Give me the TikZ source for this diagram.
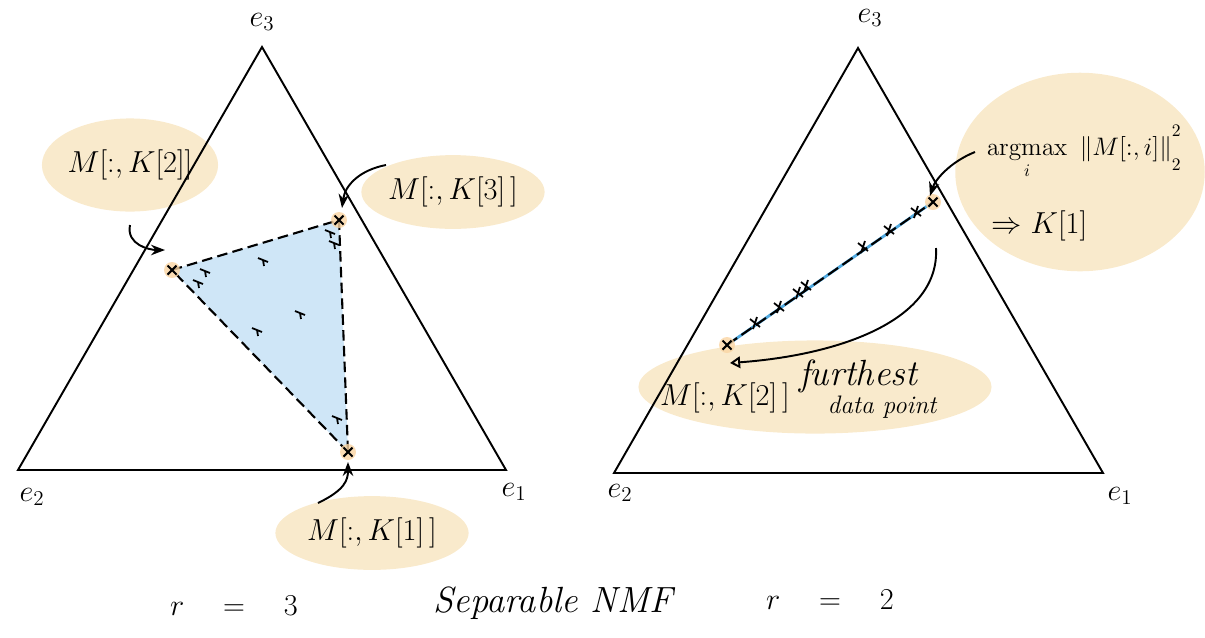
\documentclass[tikz,border=0pt]{standalone}
\usepackage{amsmath,amssymb}
\usetikzlibrary{shapes.geometric,arrows.meta,calc}
\definecolor{hlfill}{RGB}{249,234,204}
\definecolor{hullfill}{RGB}{207,230,247}
\definecolor{segblue}{RGB}{80,170,225}
\tikzset{
  hl/.style={ellipse,fill=hlfill,inner sep=0pt,font=\LARGE},
  vx/.style={fill=hlfill!80!orange,opacity=0.8},
  lab/.style={font=\LARGE},
}
\newcommand{\dpt}[1]{\draw[line width=1.2pt] (#1) +(-4.5,-4.5) -- +(4.5,4.5) (#1) +(-4.5,4.5) -- +(4.5,-4.5);}
\begin{document}
\begin{tikzpicture}[x=0.02cm,y=-0.02cm,>=Stealth,line width=1.1pt]
\useasboundingbox (0,0) rectangle (1205,637);
% highlights
\node[hl,minimum width=82pt,minimum height=53pt] (k2) at (130,165) {$M[:,K[2]]$};
\node[hl,minimum width=88pt,minimum height=42pt] (k3) at (453,192) {$M[:,K[3]\,]$};
\node[hl,minimum width=110pt,minimum height=42pt] (k1) at (372,533) {$M[:,K[1]\,]$};
\node[hl,minimum width=142pt,minimum height=113pt] (am) at (1080,172) {};
\node[hl,minimum width=201pt,minimum height=53pt] (fp) at (815,387) {};
% left simplex, r = 3
\coordinate (L1) at (506,470);
\coordinate (L2) at (18,470);
\coordinate (L3) at (262,47);
\draw (L1)--(L2)--(L3)--cycle;
\node[lab] (le3) at (262,22) {$e_3$};
\node[lab] (le2) at (32,497) {$e_2$};
\node[lab] (le1) at (514,492) {$e_1$};
\coordinate (K1) at (348,452);
\coordinate (K2) at (172,270);
\coordinate (K3) at (339,220);
\fill[hullfill] (K1)--(K2)--(K3)--cycle;
\draw[dashed,line width=1.2pt,dash pattern=on 6pt off 3pt] (K1)--(K2)--(K3)--cycle;
\foreach \p in {K1,K2,K3} {\fill[vx] (\p) circle (8);}
\foreach \p in {K1,K2,K3} {\dpt{\p}}
\foreach \q in {(205,271),(198,282),(263,260),(300,313),(257,330),(330,232),(334,243),(337,418)} {
  \draw[line width=1pt] \q +(-5,-2) -- +(5,2) \q +(0,0) -- +(1,6);}
\coordinate (k2s) at (130,225);
\coordinate (k3w) at (386,165);
\coordinate (k1n) at (318,503);
\draw[->] (k2s) .. controls (126,245) and (150,250) .. ($(K2)+(-7,-20)$);
\draw[->] (k3w) .. controls (360,170) and (345,185) .. ($(K3)+(3,-12)$);
\draw[->] (k1n) .. controls (345,490) and (348,480) .. ($(K1)+(0,10)$);
% right simplex, r = 2
\coordinate (R1) at (1103,473);
\coordinate (R2) at (614,473);
\coordinate (R3) at (858,48);
\draw (R1)--(R2)--(R3)--cycle;
\node[lab] (re3) at (870,18) {$e_3$};
\node[lab] (re2) at (620,493) {$e_2$};
\node[lab] (re1) at (1120,496) {$e_1$};
\node[lab,font=\Large,anchor=west] (amt) at (980,152)
  {$\displaystyle\operatorname*{argmax}_i\ \|M[:,i]\|^{\raisebox{5pt}{$\scriptstyle 2$}}_{\raisebox{-5pt}{$\scriptstyle 2$}}$};
\node[lab,anchor=west] (amk) at (985,226) {$\Rightarrow K[1]$};
\node[lab] (fk2) at (725,398) {$M[:,K[2]\,]$};
\node[lab,font=\huge\itshape] (fur) at (858,376) {furthest};
\node[lab,font=\Large\itshape] (dat) at (882,407) {data point};
\coordinate (P2) at (727,345);
\coordinate (P1) at (933,202);
\draw[segblue,line width=1.6pt] (P2)--(P1);
\draw[dashed,dash pattern=on 7pt off 3pt,line width=1.2pt] (P2)--(P1);
\foreach \p in {P1,P2} {\fill[vx] (\p) circle (8);}
\foreach \p in {P1,P2} {\dpt{\p}}
\foreach \q in {(755,323),(779,307),(798,293),(806,286),(863,247),(889,230),(916,212)} {
  \draw[line width=1pt] \q +(-5,-4) -- +(5,4) \q +(-2,6) -- +(2,-6);}
\coordinate (amw) at (975,152);
\coordinate (fpa) at (936,248);
\draw[->] (amw) .. controls (950,162) and (935,180) .. ($(P1)+(-3,-6)$);
\draw[-{Triangle[open]}] (fpa) .. controls (940,320) and (840,355) .. ($(P2)+(3,18)$);
% captions
\node[lab] (r3) at (234,606) {$r\quad=\quad3$};
\node[lab,font=\huge\itshape] (title) at (553,603) {Separable NMF};
\node[lab] (r2) at (830,600) {$r\quad=\quad2$};
\end{tikzpicture}
\end{document}
